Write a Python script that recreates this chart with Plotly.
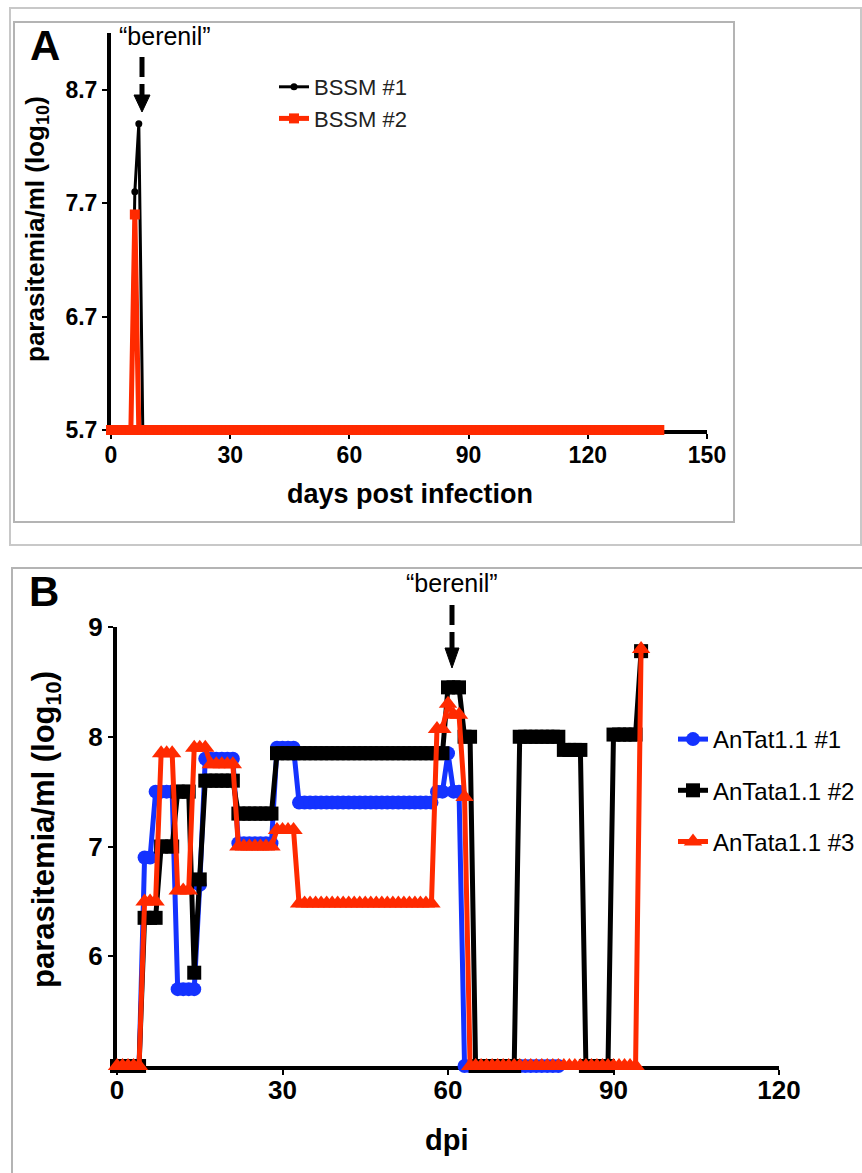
import plotly.graph_objects as go

# ---------------- Panel A data ----------------
days_a = list(range(0, 139))
bssm1 = [5.7] * 6 + [7.8, 8.4] + [5.7] * 131
bssm2 = [5.7] * 6 + [7.6] + [5.7] * 132
x_ticks_a = [0, 30, 60, 90, 120, 150]
y_ticks_a = [5.7, 6.7, 7.7, 8.7]

# ---------------- Panel B data ----------------
days_b1 = list(range(0, 81))
antat1 = ([5.0] * 5 + [6.9] * 2 + [7.5] * 4 + [5.7] * 4 + [6.65] + [7.8] * 6 +
          [7.03] * 7 + [7.9] * 4 + [7.4] * 25 + [7.5] * 2 + [7.85] + [7.5] * 2 + [5.0] * 18)
days_b2 = list(range(0, 96))
antata2 = ([5.0] * 5 + [6.35] * 3 + [7.0] * 3 + [7.5] * 3 + [5.85] + [6.7] + [7.6] * 6 +
           [7.3] * 7 + [7.85] * 31 + [8.45] * 3 + [8.0] * 2 + [5.0] * 8 + [8.0] * 8 +
           [7.88] * 4 + [5.0] * 5 + [8.02] * 5 + [8.78])
days_b3 = list(range(0, 96))
antata3 = ([5.0] * 5 + [6.5] * 3 + [7.85] * 3 + [6.6] * 3 + [7.9] * 3 + [7.75] * 5 +
           [7.0] * 7 + [7.15] * 4 + [6.48] * 25 + [8.07] * 2 + [8.3] + [8.2] * 2 + [7.45] +
           [5.0] * 31 + [8.8])
x_ticks_b = [0, 30, 60, 90, 120]
y_ticks_b = [6, 7, 8, 9]

BLUE = "#1432ff"
RED = "#ff2a00"
BLACK = "#000000"
FONT = "Liberation Sans"

W, H = 862, 1173


def px(x):
    return x / W


def py(y):
    return 1 - y / H


fig = go.Figure()

# Panel A traces
fig.add_trace(go.Scatter(x=days_a, y=bssm1, mode="lines+markers", name="BSSM #1",
                         line=dict(color=BLACK, width=3),
                         marker=dict(symbol="circle", size=7, color=BLACK),
                         cliponaxis=False, xaxis="x", yaxis="y", legend="legend"))
fig.add_trace(go.Scatter(x=days_a, y=bssm2, mode="lines+markers", name="BSSM #2",
                         line=dict(color=RED, width=5),
                         marker=dict(symbol="square", size=10, color=RED),
                         cliponaxis=False, xaxis="x", yaxis="y", legend="legend"))

# Panel B traces
fig.add_trace(go.Scatter(x=days_b1, y=antat1, mode="lines+markers", name="AnTat1.1 #1",
                         line=dict(color=BLUE, width=5),
                         marker=dict(symbol="circle", size=14, color=BLUE),
                         cliponaxis=False, xaxis="x2", yaxis="y2", legend="legend2",
                         legendgroup="g1"))
fig.add_trace(go.Scatter(x=days_b2, y=antata2, mode="lines+markers", name="AnTata1.1 #2",
                         line=dict(color=BLACK, width=5),
                         marker=dict(symbol="square", size=14, color=BLACK),
                         cliponaxis=False, xaxis="x2", yaxis="y2", legend="legend2",
                         legendgroup="g2"))
fig.add_trace(go.Scatter(x=days_b3, y=antata3, mode="lines+markers", name="AnTata1.1 #3",
                         line=dict(color=RED, width=5),
                         marker=dict(symbol="triangle-up", size=16, color=RED),
                         cliponaxis=False, xaxis="x2", yaxis="y2", legend="legend2",
                         legendgroup="g3"))

tick_font_a = dict(family=FONT, size=23, color="black", weight="bold")
tick_font_b = dict(family=FONT, size=26, color="black", weight="bold")

axis_common = dict(showgrid=False, zeroline=False, showline=True, linecolor="black",
                   ticks="outside", tickcolor="black", tickwidth=2, ticklen=5,
                   layer="below traces")

fig.update_layout(
    width=W, height=H,
    margin=dict(l=0, r=0, t=0, b=0, autoexpand=False),
    paper_bgcolor="white", plot_bgcolor="white",
    xaxis=dict(domain=[px(111), px(707)], range=[0, 150], tickvals=x_ticks_a,
               linewidth=4, tickfont=tick_font_a, anchor="y", ticklabelstandoff=-4,
               **axis_common),
    yaxis=dict(domain=[py(430), py(33)], range=[5.7, 9.2], tickvals=y_ticks_a,
               ticktext=[f"{v:.1f}" for v in y_ticks_a],
               linewidth=4, tickfont=tick_font_a, anchor="x", **axis_common),
    xaxis2=dict(domain=[px(117), px(779)], range=[0, 120], tickvals=x_ticks_b,
                linewidth=4, tickfont=tick_font_b, anchor="y2", ticklabelstandoff=-7,
                **axis_common),
    yaxis2=dict(domain=[py(1066), py(627)], range=[5, 9], tickvals=y_ticks_b,
                linewidth=4, tickfont=tick_font_b, anchor="x2", **axis_common),
    legend=dict(x=px(274), y=py(66), xanchor="left", yanchor="top",
                font=dict(family=FONT, size=22, color="#222"),
                bgcolor="rgba(0,0,0,0)", itemwidth=30, tracegroupgap=0),
    legend2=dict(x=px(673), y=py(717), xanchor="left", yanchor="top",
                 font=dict(family=FONT, size=24, color="black"),
                 bgcolor="rgba(0,0,0,0)", itemwidth=30, tracegroupgap=17),
    showlegend=True,
)


def note(text, x, y, size, bold=True, angle=0):
    return dict(text=text, x=px(x), y=py(y), xref="paper", yref="paper",
                xanchor="center", yanchor="middle", showarrow=False, textangle=angle,
                font=dict(family=FONT, size=size, color="black",
                          weight="bold" if bold else "normal"))


annotations = [
    note("A", 45, 46, 42),
    note("B", 44, 591, 42),
    note("parasitemia/ml (log<sub>10</sub>)", 36, 229, 26, angle=-90),
    note("days post infection", 410, 494, 27),
    note("parasitemia/ml (log<sub>10</sub>)", 46, 830, 31, angle=-90),
    note("dpi", 447, 1140, 29),
    note("\u201cberenil\u201d", 165, 36, 25, bold=False),
    note("\u201cberenil\u201d", 452, 583, 25, bold=False),
]
fig.update_layout(annotations=annotations)


def head(xc, ytop, ytip, half):
    return (f"M {px(xc - half)} {py(ytop)} L {px(xc + half)} {py(ytop)} "
            f"L {px(xc)} {py(ytip)} Z")


shapes = [
    # frames
    dict(type="rect", xref="paper", yref="paper", x0=px(10), x1=px(861), y0=py(545), y1=py(8),
         line=dict(color="#c8c8c8", width=2)),
    dict(type="rect", xref="paper", yref="paper", x0=px(14), x1=px(734), y0=py(522), y1=py(22),
         line=dict(color="#b4b4b4", width=2)),
    dict(type="rect", xref="paper", yref="paper", x0=px(12), x1=px(864), y0=py(1176), y1=py(568),
         line=dict(color="#b4b4b4", width=2)),
    # dashed arrow shafts
    dict(type="line", xref="paper", yref="paper", x0=px(142), x1=px(142), y0=py(57), y1=py(97),
         line=dict(color="black", width=5, dash="20px,7px")),
    dict(type="line", xref="paper", yref="paper", x0=px(452), x1=px(452), y0=py(605), y1=py(650),
         line=dict(color="black", width=5, dash="20px,7px")),
    # arrow heads
    dict(type="path", xref="paper", yref="paper", path=head(142, 95, 112, 8),
         fillcolor="black", line=dict(color="black", width=1)),
    dict(type="path", xref="paper", yref="paper", path=head(452, 648, 668, 7),
         fillcolor="black", line=dict(color="black", width=1)),
]
fig.update_layout(shapes=shapes)

fig.write_html("out.html")
